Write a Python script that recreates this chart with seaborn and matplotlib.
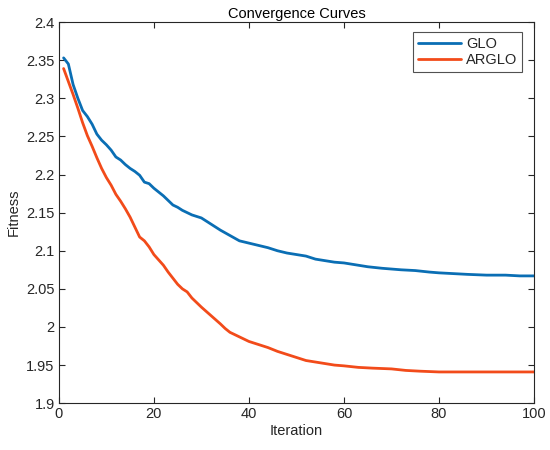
import matplotlib
import matplotlib.pyplot as plt
import pandas as pd
import seaborn as sns

matplotlib.use("Agg")

# values
glo_iter = [1, 2, 3, 4, 5, 6, 7, 8, 9, 10, 11, 12, 13, 14, 15, 16, 17, 18, 19, 20,
            22, 24, 25, 26, 28, 30, 32, 34, 36, 38, 40, 42, 44, 46, 48, 50, 52, 54,
            56, 58, 60, 62, 65, 68, 70, 72, 75, 78, 80, 83, 86, 90, 94, 97, 100]
glo_fit = [2.353, 2.345, 2.318, 2.300, 2.284, 2.276, 2.266, 2.253, 2.245, 2.239,
           2.232, 2.223, 2.219, 2.213, 2.208, 2.204, 2.199, 2.190, 2.188, 2.182,
           2.172, 2.160, 2.157, 2.153, 2.147, 2.143, 2.135, 2.127, 2.120, 2.113,
           2.110, 2.107, 2.104, 2.100, 2.097, 2.095, 2.093, 2.089, 2.087, 2.085,
           2.084, 2.082, 2.079, 2.077, 2.076, 2.075, 2.074, 2.072, 2.071, 2.070,
           2.069, 2.068, 2.068, 2.067, 2.067]

arglo_iter = [1, 2, 3, 4, 5, 6, 7, 8, 9, 10, 11, 12, 13, 14, 15, 16, 17, 18, 19, 20,
              21, 22, 23, 24, 25, 26, 27, 28, 29, 30, 32, 34, 35, 36, 38, 40, 42, 44,
              46, 48, 50, 52, 54, 56, 58, 60, 63, 66, 70, 73, 76, 80, 85, 90, 100]
arglo_fit = [2.339, 2.322, 2.305, 2.287, 2.268, 2.251, 2.237, 2.222, 2.208, 2.196,
             2.186, 2.174, 2.165, 2.155, 2.144, 2.131, 2.118, 2.113, 2.105, 2.095,
             2.088, 2.081, 2.072, 2.064, 2.056, 2.050, 2.046, 2.038, 2.032, 2.026,
             2.015, 2.004, 1.998, 1.993, 1.987, 1.981, 1.977, 1.973, 1.968, 1.964,
             1.960, 1.956, 1.954, 1.952, 1.950, 1.949, 1.947, 1.946, 1.945, 1.943,
             1.942, 1.941, 1.941, 1.941, 1.941]

df = pd.concat([
    pd.DataFrame({"Iteration": glo_iter, "Fitness": glo_fit, "Method": "GLO"}),
    pd.DataFrame({"Iteration": arglo_iter, "Fitness": arglo_fit, "Method": "ARGLO"}),
])

sns.set_style("ticks")
plt.rcParams["font.family"] = ["Liberation Sans", "DejaVu Sans"]
plt.rcParams["xtick.direction"] = "in"
plt.rcParams["ytick.direction"] = "in"

fig = plt.figure(figsize=(5.5, 4.5), dpi=100)
ax = fig.add_axes([0.107, 0.104, 0.864, 0.847])

sns.lineplot(data=df, x="Iteration", y="Fitness", hue="Method",
             palette={"GLO": "#0A6EB4", "ARGLO": "#F24B1A"},
             linewidth=2.0, ax=ax)

ax.set_xlim(0, 100)
ax.set_ylim(1.9, 2.4)
ax.set_xticks([0, 20, 40, 60, 80, 100])
ax.set_yticks([1.9, 1.95, 2.0, 2.05, 2.1, 2.15, 2.2, 2.25, 2.3, 2.35, 2.4])
ax.set_yticklabels(["1.9", "1.95", "2", "2.05", "2.1", "2.15", "2.2", "2.25", "2.3", "2.35", "2.4"])
ax.tick_params(axis="both", which="both", top=True, right=True, labelsize=10.5,
               length=4, width=0.8, color="#262626", labelcolor="#262626", pad=3)
for s in ax.spines.values():
    s.set_color("#262626")
    s.set_linewidth(0.8)

ax.set_title("Convergence Curves", fontsize=10.5, color="#000000", pad=3)
ax.set_xlabel("Iteration", fontsize=10.5, color="#262626", labelpad=2)
ax.set_ylabel("Fitness", fontsize=10.5, color="#262626", labelpad=4)

leg = ax.legend(loc="upper right", bbox_to_anchor=(0.975, 0.975), fontsize=10.5,
                frameon=True, fancybox=False, handlelength=3.0, handletextpad=0.3,
                borderpad=0.35, labelspacing=0.15, borderaxespad=0)
leg.get_frame().set_edgecolor("#262626")
leg.get_frame().set_linewidth(0.8)

fig.savefig("out.png", dpi=100)
plt.close(fig)
